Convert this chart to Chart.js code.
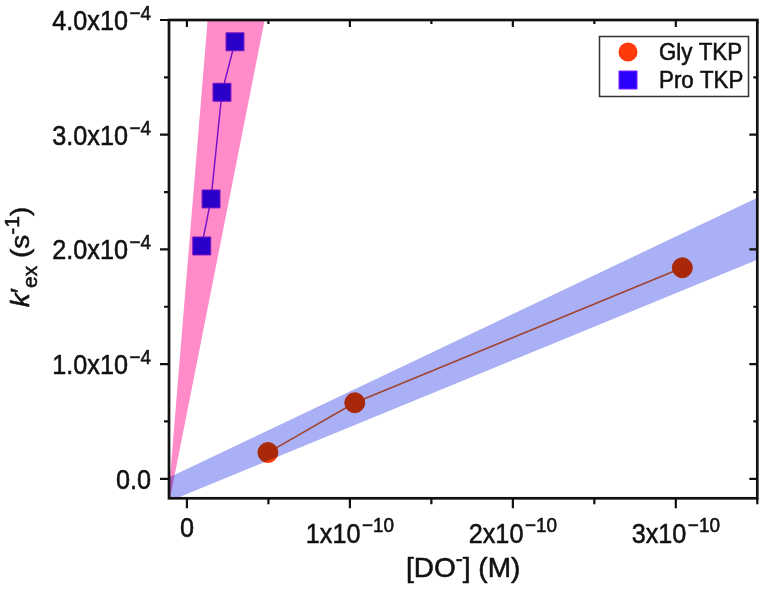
<!DOCTYPE html>
<html><head><meta charset="utf-8">
<script src="https://cdn.jsdelivr.net/npm/chart.js@4.4.1/dist/chart.umd.min.js"></script>
<style>html,body{margin:0;padding:0;background:#fff;overflow:hidden}#wrap{width:771px;height:591px}</style>
</head><body><div id="wrap"><canvas id="c" width="771" height="591"></canvas></div>
<script>
// ---- data ----
const glyLabel = 'Gly TKP';
const proLabel = 'Pro TKP';
const glyX = [4.97e-11, 1.03e-10, 3.04e-10];
const glyY = [2.29e-5, 6.63e-5, 1.84e-4];
const proX = [9.1e-12, 1.48e-11, 2.15e-11, 2.95e-11];
const proY = [2.03e-4, 2.44e-4, 3.37e-4, 3.81e-4];
const pinkBandX = [-1.22e-11, 1.27e-11, 4.77e-11];
const pinkBandY = [-3.03e-5, 4.0e-4, 4.0e-4];
const blueBandX = [-1.11e-11, 3.5e-10, 3.5e-10, -1.11e-11];
const blueBandY = [1.0e-6, 2.45e-4, 1.91e-4, -1.97e-5];
const xTickValues = [0, 1e-10, 2e-10, 3e-10];
const xTickMain = ['0', '1x10', '2x10', '3x10'];
const xTickExp = ['', '\u221210', '\u221210', '\u221210'];
const xMinorValues = [5e-11, 1.5e-10, 2.5e-10, 3.5e-10];
const yTickValues = [0, 1e-4, 2e-4, 3e-4, 4e-4];
const yTickMain = ['0.0', '1.0x10', '2.0x10', '3.0x10', '4.0x10'];
const yTickExp = ['', '\u22124', '\u22124', '\u22124', '\u22124'];
const yMinorValues = [5e-5, 1.5e-4, 2.5e-4, 3.5e-4];
const xMin = -1.1e-11, xMax = 3.5e-10, yMin = -1.7e-5, yMax = 4.0e-4;

// ---- styles ----
const FAM = '"Liberation Sans", Arial, sans-serif';
const MAIN_FONT = '28px ' + FAM;
const SUP_FONT = '21px ' + FAM;
const SX = 0.9;
const THICK = 0.55;
const GLY_FILL = '#ff3a0a', GLY_LINE = '#f06030';
const PRO_FILL = '#2a00ff', PRO_EDGE = '#7a20ff';
const PINK = '#ff8cc8', BLUE = '#aab0f5';

function toPts(xs, ys) { return xs.map((x, i) => ({x: x, y: ys[i]})); }

function textW(ctx, font, s, sx) { ctx.font = font; return ctx.measureText(s).width * sx; }
function drawT(ctx, font, s, x, y, sx) {
  ctx.save(); ctx.font = font; ctx.translate(x, y); ctx.scale(sx, 1);
  ctx.textAlign = 'left'; ctx.textBaseline = 'alphabetic';
  ctx.fillText(s, 0, 0);
  ctx.lineWidth = THICK; ctx.strokeStyle = ctx.fillStyle; ctx.strokeText(s, 0, 0);
  ctx.restore();
}

const blendPlugin = {
  id: 'blend',
  afterDatasetDraw(chart, args) {
    const metas = chart.getSortedVisibleDatasetMetas();
    const pos = metas.indexOf(args.meta);
    const next = metas[pos - 1];
    chart.ctx.globalCompositeOperation = (next && chart.data.datasets[next.index].band) ? 'multiply' : 'source-over';
  },
  afterDatasetsDraw(chart) { chart.ctx.globalCompositeOperation = 'source-over'; }
};

const decorPlugin = {
  id: 'decor',
  afterDraw(chart) {
    const ctx = chart.ctx, a = chart.chartArea, xs = chart.scales.x, ys = chart.scales.y;
    ctx.save();
    ctx.strokeStyle = '#111'; ctx.fillStyle = '#111';
    ctx.lineWidth = 2.2;
    ctx.beginPath();
    xTickValues.forEach(v => { const p = xs.getPixelForValue(v);
      ctx.moveTo(p, a.bottom); ctx.lineTo(p, a.bottom + 10);
      ctx.moveTo(p, a.top); ctx.lineTo(p, a.top + 7); });
    xMinorValues.forEach(v => { const p = xs.getPixelForValue(v);
      ctx.moveTo(p, a.bottom); ctx.lineTo(p, a.bottom + 6);
      ctx.moveTo(p, a.top); ctx.lineTo(p, a.top + 4); });
    yTickValues.forEach(v => { const p = ys.getPixelForValue(v);
      ctx.moveTo(a.left - 9, p); ctx.lineTo(a.left, p);
      ctx.moveTo(a.right - 8, p); ctx.lineTo(a.right, p); });
    yMinorValues.forEach(v => { const p = ys.getPixelForValue(v);
      ctx.moveTo(a.left - 5, p); ctx.lineTo(a.left, p);
      ctx.moveTo(a.right - 4, p); ctx.lineTo(a.right, p); });
    ctx.stroke();
    ctx.lineWidth = 2.7;
    ctx.strokeRect(a.left, a.top, a.right - a.left, a.bottom - a.top);

    // y tick labels
    yTickValues.forEach((v, i) => {
      const p = ys.getPixelForValue(v);
      const wm = textW(ctx, MAIN_FONT, yTickMain[i], SX);
      const we = yTickExp[i] ? textW(ctx, SUP_FONT, yTickExp[i], SX) + 1.5 : 0;
      const x0 = a.left - 18 - wm - we;
      drawT(ctx, MAIN_FONT, yTickMain[i], x0, p + 10, SX);
      if (yTickExp[i]) drawT(ctx, SUP_FONT, yTickExp[i], x0 + wm + 1.5, p, SX);
    });
    // x tick labels
    xTickValues.forEach((v, i) => {
      const p = xs.getPixelForValue(v);
      const wm = textW(ctx, MAIN_FONT, xTickMain[i], SX);
      const we = xTickExp[i] ? textW(ctx, SUP_FONT, xTickExp[i], SX) + 1.5 : 0;
      const x0 = p - (wm + we) / 2;
      const base = xTickExp[i] ? a.bottom + 45 : a.bottom + 39;
      drawT(ctx, MAIN_FONT, xTickMain[i], x0, base, SX);
      if (xTickExp[i]) drawT(ctx, SUP_FONT, xTickExp[i], x0 + wm + 1.5, base - 11, SX);
    });

    // x title: [DO-] (M)
    const TF = '28px ' + FAM, TS = '21px ' + FAM;
    const t1 = '[DO', t2 = '-', t3 = '] (M)';
    const w1 = textW(ctx, TF, t1, 1), w2 = textW(ctx, TS, t2, 1), w3 = textW(ctx, TF, t3, 1);
    const cx = (a.left + a.right) / 2;
    let tx = cx - (w1 + w2 + w3) / 2;
    const tb = 577;
    drawT(ctx, TF, t1, tx, tb, 1); tx += w1;
    drawT(ctx, TS, t2, tx, tb - 11, 1); tx += w2;
    drawT(ctx, TF, t3, tx, tb, 1);

    // y title: k'ex (s-1), rotated
    const KF = 'italic 28px ' + FAM;
    const parts = [
      {s: 'k', f: KF, dy: 0}, {s: '\u2032', f: TF, dy: 0}, {s: 'ex', f: TS, dy: 8},
      {s: ' (s', f: TF, dy: 0}, {s: '-1', f: TS, dy: -11}, {s: ')', f: TF, dy: 0}
    ];
    let tot = 0; parts.forEach(q => { q.w = textW(ctx, q.f, q.s, 1); tot += q.w; });
    ctx.save();
    ctx.translate(29, 257);
    ctx.rotate(-Math.PI / 2);
    ctx.scale(1, 0.95);
    let px = -tot / 2;
    parts.forEach(q => { drawT(ctx, q.f, q.s, px, q.dy, 1); px += q.w; });
    ctx.restore();

    // legend
    const lx = 599, ly = 36, lw = 149, lh = 60;
    ctx.fillStyle = '#fff';
    ctx.fillRect(lx, ly, lw, lh);
    ctx.lineWidth = 1.5; ctx.strokeStyle = '#333';
    ctx.strokeRect(lx + 0.5, ly + 0.5, lw, lh);
    const LF = '24px ' + FAM;
    ctx.fillStyle = GLY_FILL;
    ctx.beginPath(); ctx.arc(628, 52, 9.5, 0, Math.PI * 2); ctx.fill();
    ctx.fillStyle = PRO_FILL; ctx.strokeStyle = PRO_EDGE; ctx.lineWidth = 1;
    ctx.fillRect(619, 71, 18, 18); ctx.strokeRect(619, 71, 18, 18);
    ctx.fillStyle = '#111';
    drawT(ctx, LF, chart.data.datasets[0].label, 659, 60, 0.93);
    drawT(ctx, LF, chart.data.datasets[1].label, 659, 88, 0.93);
    ctx.restore();
  }
};

new Chart(document.getElementById('c'), {
  data: {
    datasets: [
      { type: 'scatter', label: glyLabel, data: toPts(glyX, glyY), showLine: true,
        borderColor: GLY_LINE, borderWidth: 1.5, pointStyle: 'circle', pointRadius: 10,
        pointBackgroundColor: GLY_FILL, pointBorderColor: GLY_FILL, pointBorderWidth: 1, order: 3 },
      { type: 'scatter', label: proLabel, data: toPts(proX, proY), showLine: true,
        borderColor: PRO_EDGE, borderWidth: 1.5, pointStyle: 'rect', pointRadius: 12.7,
        pointBackgroundColor: PRO_FILL, pointBorderColor: PRO_EDGE, pointBorderWidth: 1, order: 3 },
      { type: 'line', label: 'Pro band', band: true, data: toPts(pinkBandX, pinkBandY),
        fill: 'shape', backgroundColor: PINK, borderWidth: 0, pointRadius: 0, tension: 0, order: 1 },
      { type: 'line', label: 'Gly band', band: true, data: toPts(blueBandX, blueBandY),
        fill: 'shape', backgroundColor: BLUE, borderWidth: 0, pointRadius: 0, tension: 0, order: 1 }
    ]
  },
  options: {
    responsive: false, animation: false, devicePixelRatio: 1, events: [],
    layout: { padding: { left: 169, top: 20, right: 6.5, bottom: 92.7 } },
    scales: {
      x: { type: 'linear', min: xMin, max: xMax, display: false },
      y: { type: 'linear', min: yMin, max: yMax, display: false }
    },
    plugins: { legend: { display: false }, tooltip: { enabled: false } }
  },
  plugins: [blendPlugin, decorPlugin]
});
</script>
</body></html>
